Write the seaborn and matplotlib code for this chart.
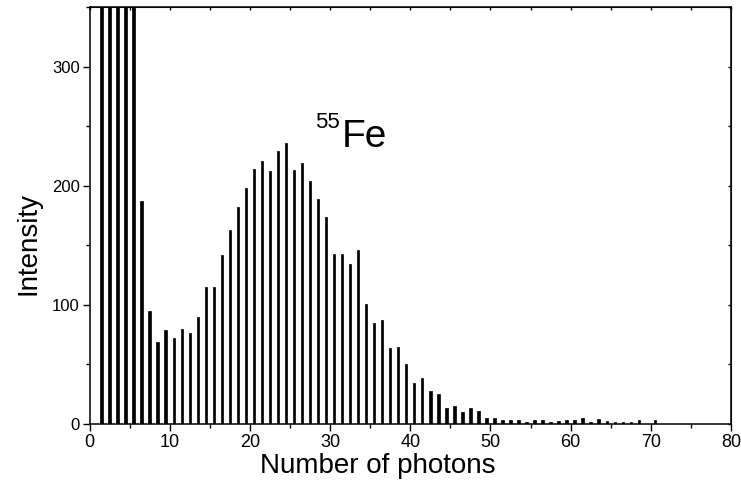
import matplotlib
matplotlib.use("Agg")
import matplotlib.pyplot as plt
from matplotlib.ticker import MultipleLocator
import seaborn as sns
import pandas as pd

# photon counts: bin centres and intensities
photons = [n + 0.5 for n in range(1, 71)]
intensity = [
    2000, 1500, 1000, 700, 450, 187, 95, 69, 79, 72,
    80, 76, 90, 115, 115, 142, 163, 182, 198, 214,
    221, 212, 229, 236, 213, 219, 204, 189, 174, 143,
    143, 134, 146, 101, 85, 87, 64, 65, 50, 34,
    39, 28, 25, 13, 15, 10, 13, 11, 5, 5,
    3, 3, 3, 2, 3, 3, 1.5, 2.5, 3, 3.5,
    5, 2, 4, 2.5, 2, 2, 1.5, 3, 0, 3,
]

df = pd.DataFrame({"photons": photons, "intensity": intensity})

sns.set_style("ticks")
plt.rcParams['font.family'] = ['Liberation Sans', 'DejaVu Sans']
plt.rcParams.update({'text.color': 'black', 'axes.labelcolor': 'black',
                     'xtick.color': 'black', 'ytick.color': 'black'})

fig = plt.figure(figsize=(7.41, 4.87), dpi=100)
ax = fig.add_axes([0.1208, 0.1294, 0.8657, 0.8562])

sns.barplot(data=df, x="photons", y="intensity", native_scale=True,
            color="black", edgecolor="black", width=0.3, linewidth=0.5,
            saturation=1, ax=ax)

ax.set_xlim(0, 80)
ax.set_ylim(0, 350)
ax.xaxis.set_major_locator(MultipleLocator(10))
ax.xaxis.set_minor_locator(MultipleLocator(5))
ax.yaxis.set_major_locator(MultipleLocator(100))
ax.yaxis.set_minor_locator(MultipleLocator(50))

ax.tick_params(which='major', direction='out', length=5, width=1)
ax.tick_params(which='minor', direction='out', length=3, width=1)
ax.tick_params(axis='x', labelsize=13, pad=2)
ax.tick_params(axis='y', labelsize=12, pad=2)
for spine in ax.spines.values():
    spine.set_visible(True)
    spine.set_linewidth(1.1)
    spine.set_color('black')

# tiny inward ticks on the top and right
top = ax.secondary_xaxis('top')
top.xaxis.set_major_locator(MultipleLocator(5))
top.tick_params(direction='in', length=2, width=1, labeltop=False)
right = ax.secondary_yaxis('right')
right.yaxis.set_major_locator(MultipleLocator(50))
right.tick_params(direction='in', length=2, width=1, labelright=False)

ax.set_xlabel("Number of photons", fontsize=20, labelpad=0)
ax.set_ylabel("Intensity", fontsize=20)
# labels sit a bit off-centre in the original
ax.xaxis.set_label_coords(0.449, -0.07)
ax.yaxis.set_label_coords(-0.075, 0.434)

ax.text(31.4, 232.4, "Fe", fontsize=28, ha='left', va='baseline')
ax.text(31.2, 262, "55", fontsize=16, ha='right', va='top')

fig.savefig("out.png", dpi=100)
